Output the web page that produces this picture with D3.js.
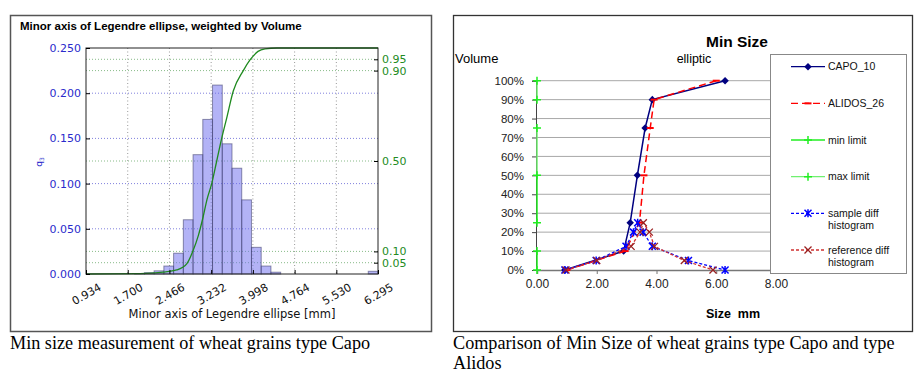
<!DOCTYPE html>
<html>
<head>
<meta charset="utf-8">
<script src="https://cdn.jsdelivr.net/npm/d3@7/dist/d3.min.js"></script>
<style>
  body { margin: 0; background: #fff; }
  svg { display: block; }
</style>
</head>
<body>
<div id="chart"></div>
<script>
// ---- left chart: histogram of minor axis (Capo) ----
const histMin = 0.934;
const histMax = 6.295;
const xTicksLeft = [0.934, 1.700, 2.466, 3.232, 3.998, 4.764, 5.530, 6.295];
const yTicksLeft = [0, 0.05, 0.10, 0.15, 0.20, 0.25];
const cumTicks = [0.05, 0.10, 0.50, 0.90, 0.95];
// q3 per bin (30 bins between histMin and histMax)
const q3Values = [0, 0, 0, 0, 0, 0.0005, 0.0015, 0.0035, 0.0088, 0.023,
                  0.060, 0.132, 0.171, 0.209, 0.144, 0.117, 0.082, 0.0295, 0.0088, 0.002,
                  0, 0, 0, 0, 0, 0, 0, 0, 0, 0.003];
// cumulative curve (Q3)
const cumSize  = [0.934, 1.925, 2.348, 2.599, 2.783, 2.904, 2.996, 3.082, 3.156, 3.242,
                  3.334, 3.425, 3.517, 3.638, 3.822, 3.945, 4.092, 4.220, 4.441, 6.295];
const cumValue = [0, 0.002, 0.008, 0.018, 0.045, 0.106, 0.17, 0.25, 0.33, 0.40,
                  0.50, 0.60, 0.69, 0.81, 0.90, 0.947, 0.985, 0.996, 1.0, 1.0];

// ---- right chart: Min Size comparison ----
const pctLevels = [0, 10, 25, 50, 75, 90, 100];
const capoSize   = [0.934, 2.90, 3.12, 3.36, 3.62, 3.86, 6.295];
const alidosSize = [1.00, 2.95, 3.43, 3.58, 3.79, 3.92, 6.00];
const diffPct = [0, 5, 12.5, 20, 25, 20, 12.5, 5, 0];
const sampleDiffSize = [0.934, 1.98, 2.98, 3.23, 3.37, 3.55, 3.86, 5.07, 6.295];
const refDiffSize    = [0.97, 2.00, 3.15, 3.45, 3.56, 3.76, 3.93, 4.93, 5.89];
// min / max limit drawn at size 0, as pct segments
const minLimitSegs = [[0, 10], [25, 50]];
const maxLimitSegs = [[50, 75], [90, 100]];
const sizeTicks = [0, 2, 4, 6, 8];
const pctTicks = [0, 10, 20, 30, 40, 50, 60, 70, 80, 90, 100];
const legendNames = [["CAPO_10"], ["ALIDOS_26"], ["min limit"], ["max limit"],
                     ["sample diff", "histogram"], ["reference diff", "histogram"]];

const svg = d3.select("#chart").append("svg")
  .attr("width", 922)
  .attr("height", 374);

// ================= left chart =================
const L = { left: 86, right: 378, top: 48, bottom: 274 };
const xL = d3.scaleLinear().domain([histMin, histMax]).range([L.left, L.right]);
const yL = d3.scaleLinear().domain([0, 0.25]).range([L.bottom, L.top]);
const yC = d3.scaleLinear().domain([0, 1]).range([L.bottom, L.top]);

svg.append("rect")
  .attr("x", 10.5).attr("y", 15.5)
  .attr("width", 421).attr("height", 316)
  .attr("fill", "none").attr("stroke", "#555").attr("stroke-width", 1.5);

svg.append("text")
  .attr("x", 20).attr("y", 29.5)
  .attr("font-family", "Liberation Sans, Arial, sans-serif")
  .attr("font-weight", "bold").attr("font-size", "11.5px")
  .text("Minor axis of Legendre ellipse, weighted by Volume");

const gl = svg.append("g");

// grid
gl.selectAll(".vgrid").data(xTicksLeft.slice(1, -1)).enter().append("line")
  .attr("x1", d => xL(d)).attr("x2", d => xL(d))
  .attr("y1", L.top).attr("y2", L.bottom)
  .attr("stroke", "#999").attr("stroke-dasharray", "1,2.5");
gl.selectAll(".hgrid").data(yTicksLeft.slice(1, -1)).enter().append("line")
  .attr("x1", L.left).attr("x2", L.right)
  .attr("y1", d => yL(d)).attr("y2", d => yL(d))
  .attr("stroke", "#8080dd").attr("stroke-dasharray", "1,2");
gl.selectAll(".cgrid").data(cumTicks).enter().append("line")
  .attr("x1", L.left).attr("x2", L.right)
  .attr("y1", d => yC(d)).attr("y2", d => yC(d))
  .attr("stroke", "#88bb88").attr("stroke-dasharray", "1,2");

// bars (keep bin index before dropping empty bins)
const binW = (histMax - histMin) / q3Values.length;
const bins = q3Values
  .map((v, i) => ({ x0: histMin + i * binW, x1: histMin + (i + 1) * binW, v: v }))
  .filter(b => b.v > 0);
gl.selectAll(".bar").data(bins).enter().append("rect")
  .attr("x", d => xL(d.x0))
  .attr("width", d => xL(d.x1) - xL(d.x0))
  .attr("y", d => yL(d.v))
  .attr("height", d => L.bottom - yL(d.v))
  .attr("fill", "#6868ee").attr("fill-opacity", 0.5)
  .attr("stroke", "#3a3a66").attr("stroke-opacity", 0.55).attr("stroke-width", 1);

// cumulative line
gl.append("path")
  .datum(cumSize.map((s, i) => [s, cumValue[i]]))
  .attr("fill", "none").attr("stroke", "#1f8a1f").attr("stroke-width", 1.3)
  .attr("d", d3.line().x(d => xL(d[0])).y(d => yC(d[1])).curve(d3.curveMonotoneX));

// frame
gl.append("rect")
  .attr("x", L.left).attr("y", L.top)
  .attr("width", L.right - L.left).attr("height", L.bottom - L.top)
  .attr("fill", "none").attr("stroke", "#222").attr("stroke-width", 1);

const fontL = "DejaVu Sans, sans-serif";

const axL = gl.append("g").attr("transform", `translate(${L.left},0)`)
  .call(d3.axisLeft(yL).tickValues(yTicksLeft).tickFormat(d3.format(".3f")).tickSize(-4).tickPadding(5));
axL.select(".domain").remove();
axL.selectAll("text").attr("fill", "#2a2acc").attr("font-family", fontL).attr("font-size", "11px");

const axC = gl.append("g").attr("transform", `translate(${L.right},0)`)
  .call(d3.axisRight(yC).tickValues(cumTicks).tickFormat(d3.format(".2f")).tickSize(-4).tickPadding(4));
axC.select(".domain").remove();
axC.selectAll("text").attr("fill", "#228b22").attr("font-family", fontL).attr("font-size", "11px");

const axB = gl.append("g").attr("transform", `translate(0,${L.bottom})`)
  .call(d3.axisBottom(xL).tickValues(xTicksLeft).tickFormat(d3.format(".3f")).tickSize(-4));
axB.select(".domain").remove();
axB.selectAll("text")
  .attr("y", 0).attr("dy", "0.35em")
  .attr("transform", "translate(0,20) rotate(-30)")
  .attr("text-anchor", "middle")
  .attr("fill", "#111").attr("font-family", fontL).attr("font-size", "11px");

const q3Label = gl.append("text")
  .attr("transform", "translate(42,162) rotate(-90)")
  .attr("text-anchor", "middle")
  .attr("fill", "#2a2acc").attr("font-family", fontL).attr("font-size", "9px");
q3Label.append("tspan").text("q");
q3Label.append("tspan").attr("font-size", "6px").attr("dy", 2).text("3");

gl.append("text")
  .attr("x", 232).attr("y", 318)
  .attr("text-anchor", "middle")
  .attr("fill", "#111").attr("font-family", fontL).attr("font-size", "11.5px")
  .text("Minor axis of Legendre ellipse [mm]");

// ================= right chart =================
const R = { left: 537, right: 776, top: 80.7, bottom: 270 };
const xR = d3.scaleLinear().domain([0, 8]).range([R.left, R.right]);
const yR = d3.scaleLinear().domain([0, 100]).range([R.bottom, R.top]);
const fontR = "Liberation Sans, Arial, sans-serif";

svg.append("rect")
  .attr("x", 453.5).attr("y", 15.5)
  .attr("width", 459).attr("height", 316)
  .attr("fill", "none").attr("stroke", "#333").attr("stroke-width", 1.3);

const gr = svg.append("g").attr("font-family", fontR);

gr.append("text").attr("x", 737).attr("y", 47).attr("text-anchor", "middle")
  .attr("font-weight", "bold").attr("font-size", "15.5px").text("Min Size");
gr.append("text").attr("x", 455).attr("y", 63).attr("font-size", "13px").text("Volume");
gr.append("text").attr("x", 694).attr("y", 63).attr("text-anchor", "middle")
  .attr("font-size", "12.5px").text("elliptic");
gr.append("text").attr("x", 733).attr("y", 318).attr("text-anchor", "middle")
  .attr("font-weight", "bold").attr("font-size", "12.5px").style("white-space", "pre").text("Size  mm");

// gridlines
gr.selectAll(".rgrid").data(pctTicks.slice(1)).enter().append("line")
  .attr("x1", R.left).attr("x2", R.right)
  .attr("y1", d => yR(d)).attr("y2", d => yR(d))
  .attr("stroke", "#a8a8a8").attr("stroke-width", 1);

const axRY = gr.append("g").attr("transform", `translate(${R.left - 1},0)`)
  .call(d3.axisLeft(yR).tickValues(pctTicks).tickFormat(d => d + "%").tickSize(4).tickPadding(8));
axRY.select(".domain").attr("stroke", "#444");
axRY.selectAll("line").attr("stroke", "#444");
axRY.selectAll("text").attr("font-family", fontR).attr("font-size", "11.5px").attr("fill", "#222");

const axRX = gr.append("g").attr("transform", `translate(0,${R.bottom})`)
  .call(d3.axisBottom(xR).tickValues(sizeTicks).tickFormat(d3.format(".2f")).tickSize(4).tickPadding(5));
axRX.select(".domain").attr("stroke", "#777").attr("stroke-width", 1.5);
axRX.selectAll("line").attr("stroke", "#777");
axRX.selectAll("text").attr("font-family", fontR).attr("font-size", "12px").attr("fill", "#222");

// marker drawing
function marker(g, type, x, y, color) {
  if (type === "diamond") {
    g.append("path").attr("transform", `translate(${x},${y})`)
      .attr("d", d3.symbol(d3.symbolDiamond2, 36)()).attr("fill", color);
  } else if (type === "dash") {
    g.append("line").attr("x1", x - 3.5).attr("x2", x + 3.5).attr("y1", y).attr("y2", y)
      .attr("stroke", color).attr("stroke-width", 2);
  } else if (type === "plus") {
    g.append("path").attr("d", `M${x - 4},${y}H${x + 4}M${x},${y - 4}V${y + 4}`)
      .attr("stroke", color).attr("stroke-width", 1.5);
  } else if (type === "star") {
    g.append("path").attr("d", `M${x - 3.5},${y - 3.5}L${x + 3.5},${y + 3.5}M${x - 3.5},${y + 3.5}L${x + 3.5},${y - 3.5}M${x},${y - 4}V${y + 4}`)
      .attr("stroke", color).attr("stroke-width", 1.5);
  } else if (type === "x") {
    g.append("path").attr("d", `M${x - 3.5},${y - 3.5}L${x + 3.5},${y + 3.5}M${x - 3.5},${y + 3.5}L${x + 3.5},${y - 3.5}`)
      .attr("stroke", color).attr("stroke-width", 1.3);
  }
}

const series = [
  { sizes: capoSize, pcts: pctLevels, color: "#000080", dash: null, width: 1.5, mark: "diamond", markColor: "#000080" },
  { sizes: alidosSize, pcts: pctLevels, color: "#ff0000", dash: "7,4", width: 1.5, mark: "dash", markColor: "#ff0000" },
  { sizes: sampleDiffSize, pcts: diffPct, color: "#0000ff", dash: "3,2", width: 1.3, mark: "star", markColor: "#0000ff" },
  { sizes: refDiffSize, pcts: diffPct, color: "#d03030", dash: "3,2", width: 1.3, mark: "x", markColor: "#9a2020" }
];

const lineR = d3.line().x(d => xR(d[0])).y(d => yR(d[1]));

// limits at size 0
const limits = [
  { segs: minLimitSegs, color: "#22ee22" },
  { segs: maxLimitSegs, color: "#70f070" }
];
limits.forEach(lim => {
  lim.segs.forEach(s => {
    gr.append("path").datum(s.map(p => [0, p]))
      .attr("fill", "none").attr("stroke", lim.color).attr("stroke-width", 1.5)
      .attr("d", lineR);
  });
});
pctLevels.forEach(p => marker(gr, "plus", xR(0), yR(p), "#22ee22"));

series.forEach(s => {
  const pts = s.sizes.map((v, i) => [v, s.pcts[i]]);
  gr.append("path").datum(pts)
    .attr("fill", "none").attr("stroke", s.color).attr("stroke-width", s.width)
    .attr("stroke-dasharray", s.dash)
    .attr("d", lineR);
  pts.forEach(p => marker(gr, s.mark, xR(p[0]), yR(p[1]), s.markColor));
});

// legend
const lg = gr.append("g");
lg.append("rect")
  .attr("x", 770.5).attr("y", 54.5).attr("width", 136).attr("height", 219)
  .attr("fill", "#fff").attr("stroke", "#888");
const legendStyle = [
  { color: "#000080", dash: null, mark: "diamond", markColor: "#000080" },
  { color: "#ff0000", dash: "7,4", mark: "dash", markColor: "#ff0000" },
  { color: "#22ee22", dash: null, mark: "plus", markColor: "#22ee22" },
  { color: "#70f070", dash: null, mark: "plus", markColor: "#22ee22" },
  { color: "#0000ff", dash: "3,2", mark: "star", markColor: "#0000ff" },
  { color: "#d03030", dash: "3,2", mark: "x", markColor: "#9a2020" }
];
const legendY = d3.scalePoint().domain(d3.range(legendNames.length)).range([66.7, 250]);
legendNames.forEach((names, i) => {
  const y = legendY(i);
  const st = legendStyle[i];
  lg.append("line").attr("x1", 791).attr("x2", 825).attr("y1", y).attr("y2", y)
    .attr("stroke", st.color).attr("stroke-width", 1.3).attr("stroke-dasharray", st.dash);
  marker(lg, st.mark, 808, y, st.markColor);
  names.forEach((n, j) => {
    lg.append("text").attr("x", 828).attr("y", y + j * 12).attr("dy", "0.35em")
      .attr("font-size", "10.5px").attr("fill", "#111").text(n);
  });
});

// ================= captions =================
const fontCap = "Liberation Serif, Times New Roman, serif";
svg.append("text").attr("x", 10).attr("y", 349)
  .attr("font-family", fontCap).attr("font-size", "18.2px")
  .text("Min size measurement of wheat grains type Capo");
svg.append("text").attr("x", 453).attr("y", 349)
  .attr("font-family", fontCap).attr("font-size", "18.2px")
  .text("Comparison of Min Size of wheat grains type Capo and type");
svg.append("text").attr("x", 453).attr("y", 369)
  .attr("font-family", fontCap).attr("font-size", "18.2px")
  .text("Alidos");
</script>
</body>
</html>
